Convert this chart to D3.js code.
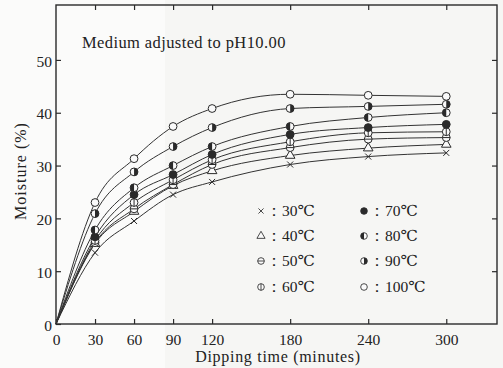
<!DOCTYPE html>
<html>
<head>
<meta charset="utf-8">
<script src="https://cdn.jsdelivr.net/npm/d3@7"></script>
<style>
  body { margin: 0; background: #f6f6f4; }
  svg { display: block; }
  text { font-family: "Liberation Serif", "DejaVu Serif", serif; fill: #222; }
</style>
</head>
<body>
<svg id="chart"></svg>
<script>
// dipping times (minutes); 0 is the common origin of every curve
var times = [0, 30, 60, 90, 120, 180, 240, 300];

var m30  = [0, 13.5, 19.5, 24.5, 26.9, 30.2, 31.7, 32.4];
var m40  = [0, 15.2, 21.3, 26.2, 29.0, 31.9, 33.3, 34.0];
var m50  = [0, 15.4, 21.8, 26.4, 30.2, 33.4, 35.0, 35.3];
var m60  = [0, 15.8, 23.0, 27.3, 31.1, 34.5, 36.2, 36.4];
var m70  = [0, 16.5, 24.5, 28.3, 32.1, 35.9, 37.2, 37.8];
var m80  = [0, 17.8, 25.8, 30.0, 33.6, 37.4, 39.1, 40.0];
var m90  = [0, 20.9, 28.8, 33.6, 37.2, 40.8, 41.2, 41.6];
var m100 = [0, 23.0, 31.3, 37.4, 40.8, 43.5, 43.3, 43.1];

var temps = ['30', '40', '50', '60', '70', '80', '90', '100'];
var seriesValues = [m30, m40, m50, m60, m70, m80, m90, m100];
var markers = ['cross', 'triangle', 'thetaH', 'thetaV', 'filled', 'halfLeft', 'halfRight', 'open'];

var xTicks = [0, 30, 60, 90, 120, 180, 240, 300];
var yTicks = [0, 10, 20, 30, 40, 50];

var width = 503;
var height = 368;
var ink = '#2a2a2a';

var svg = d3.select('#chart')
    .attr('width', width)
    .attr('height', height);

// faint paper tone of the scan
svg.append('rect')
    .attr('x', 0).attr('y', 0)
    .attr('width', 165).attr('height', height)
    .attr('fill', '#fbfbfa');

var xScale = d3.scaleLinear()
    .domain([0, 339])
    .range([56, 497]);

var yScale = d3.scaleLinear()
    .domain([0, 60.4])
    .range([324, 5]);

var series = temps.map((t, i) => ({
    temp: t,
    marker: markers[i],
    points: times.map((tm, j) => ({ t: tm, v: seriesValues[i][j] }))
}));

// frame
svg.append('rect')
    .attr('x', xScale(0))
    .attr('y', yScale(60.4))
    .attr('width', xScale(339) - xScale(0))
    .attr('height', yScale(0) - yScale(60.4))
    .attr('fill', 'none')
    .attr('stroke', ink)
    .attr('stroke-width', 1.4);

// axes, ticks pointing inward
var xAxis = d3.axisBottom(xScale)
    .tickValues(xTicks)
    .tickSize(-5)
    .tickSizeOuter(0)
    .tickPadding(10);

var yAxis = d3.axisLeft(yScale)
    .tickValues(yTicks)
    .tickSize(-5)
    .tickSizeOuter(0)
    .tickPadding(4);

var gx = svg.append('g')
    .attr('transform', `translate(0,${yScale(0)})`)
    .call(xAxis);

var gy = svg.append('g')
    .attr('transform', `translate(${xScale(0)},0)`)
    .call(yAxis);

// mirrored ticks on top and right
svg.append('g')
    .attr('transform', `translate(0,${yScale(60.4)})`)
    .call(d3.axisTop(xScale).tickValues(xTicks.slice(1)).tickSize(-5).tickSizeOuter(0).tickFormat(''));

svg.append('g')
    .attr('transform', `translate(${xScale(339)},0)`)
    .call(d3.axisRight(yScale).tickValues(yTicks.slice(1)).tickSize(-5).tickSizeOuter(0).tickFormat(''));

svg.selectAll('.domain').remove();
svg.selectAll('.tick line').attr('stroke', ink).attr('stroke-width', 1.2);
svg.selectAll('.tick text')
    .style('font-family', '"Liberation Serif", serif')
    .style('font-size', '15.5px')
    .attr('fill', '#222');
gy.selectAll('.tick text').attr('dy', '0.4em');

// curves
var line = d3.line()
    .x(d => xScale(d.t))
    .y(d => yScale(d.v))
    .curve(d3.curveMonotoneX);

svg.append('g')
  .selectAll('path')
    .data(series)
    .enter()
    .append('path')
      .attr('d', d => line(d.points))
      .attr('fill', 'none')
      .attr('stroke', '#333')
      .attr('stroke-width', 1);

// marker drawing
var r = 3.9;
function drawMarker(g, type) {
    var bg = '#fafafa';
    if (type === 'cross') {
        g.append('path')
            .attr('d', `M${-3},${-3}L3,3M${-3},3L3,${-3}`)
            .attr('stroke', ink).attr('stroke-width', 1);
        return;
    }
    if (type === 'triangle') {
        g.append('path')
            .attr('d', d3.symbol(d3.symbolTriangle, 40)())
            .attr('fill', bg).attr('stroke', ink).attr('stroke-width', 1);
        return;
    }
    g.append('circle')
        .attr('r', r)
        .attr('fill', type === 'filled' ? ink : bg)
        .attr('stroke', ink).attr('stroke-width', 1);
    if (type === 'thetaH') {
        g.append('path').attr('d', `M${-r},0H${r}`).attr('stroke', ink);
    }
    if (type === 'thetaV') {
        g.append('path').attr('d', `M0,${-r}V${r}`).attr('stroke', ink);
    }
    if (type === 'halfLeft') {
        g.append('path')
            .attr('d', d3.arc()({ innerRadius: 0, outerRadius: r, startAngle: Math.PI, endAngle: 2 * Math.PI }))
            .attr('fill', ink);
    }
    if (type === 'halfRight') {
        g.append('path')
            .attr('d', d3.arc()({ innerRadius: 0, outerRadius: r, startAngle: 0, endAngle: Math.PI }))
            .attr('fill', ink);
    }
}

series.forEach(s => {
    s.points.filter(p => p.t > 0).forEach(p => {
        var g = svg.append('g')
            .attr('transform', `translate(${xScale(p.t)},${yScale(p.v)})`);
        drawMarker(g, s.marker);
    });
});

// legend
var legendCols = [261, 364];
var legendRows = [211, 236, 261, 287];
series.forEach((s, i) => {
    var lx = legendCols[Math.floor(i / 4)];
    var ly = legendRows[i % 4];
    var g = svg.append('g').attr('transform', `translate(${lx},${ly})`);
    var mg = g.append('g').attr('transform', 'scale(0.85)');
    drawMarker(mg, s.marker);
    g.append('text')
        .attr('x', 5)
        .attr('y', 5)
        .style('font-size', '15.5px')
        .text(`：${s.temp}℃`);
});

// title inside plot
svg.append('text')
    .attr('x', 82)
    .attr('y', 48)
    .style('font-size', '16.5px')
    .style('letter-spacing', '0.4px')
    .text('Medium adjusted to pH10.00');

// axis labels
svg.append('text')
    .attr('x', 278)
    .attr('y', 362)
    .style('text-anchor', 'middle')
    .style('font-size', '16px')
    .style('letter-spacing', '0.7px')
    .text('Dipping time (minutes)');

svg.append('text')
    .attr('transform', 'rotate(-90)')
    .attr('x', -171)
    .attr('y', 26)
    .style('text-anchor', 'middle')
    .style('font-size', '16px')
    .style('letter-spacing', '1px')
    .text('Moisture (%)');
</script>
</body>
</html>
